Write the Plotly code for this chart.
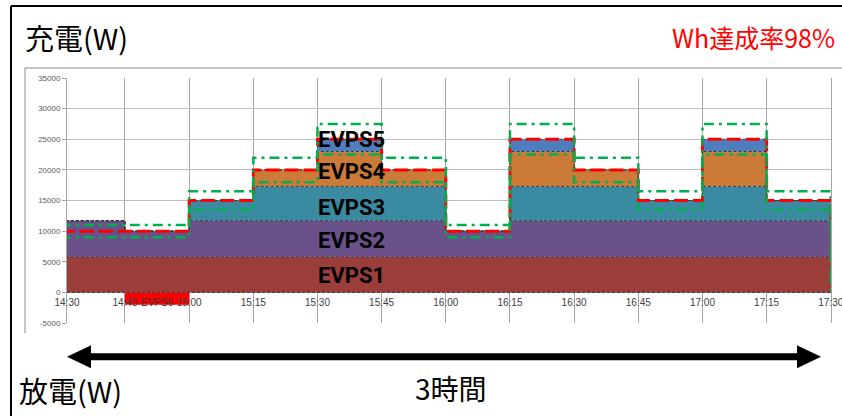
import plotly.graph_objects as go

# ---------------- data ----------------
time_labels = ["14:30", "14:45", "15:00", "15:15", "15:30", "15:45", "16:00",
               "16:15", "16:30", "16:45", "17:00", "17:15", "17:30"]
evps1 = [5800, 5800, 5800, 5800, 5800, 5800, 5800, 5800, 5800, 5800, 5800, 5800]
evps2 = [5900, 4200, 5900, 5900, 5900, 5900, 4200, 5900, 5900, 5900, 5900, 5900]
evps3 = [0, 0, 3300, 5600, 5600, 5600, 0, 5600, 5600, 3300, 5600, 3300]
evps4 = [0, 0, 0, 2700, 5700, 2700, 0, 5700, 2700, 0, 5700, 0]
evps5 = [0, 0, 0, 0, 2000, 0, 0, 2000, 0, 0, 2000, 0]
evps6 = [0, -2000, 0, 0, 0, 0, 0, 0, 0, 0, 0, 0]
target = [10000, 10000, 15000, 20000, 25000, 20000, 10000, 25000, 20000, 15000, 25000, 15000]
upper = [11000, 11000, 16500, 22000, 27500, 22000, 11000, 27500, 22000, 16500, 27500, 16500]
lower = [9000, 9000, 13500, 18000, 22500, 18000, 9000, 22500, 18000, 13500, 22500, 13500]
y_ticks = [-5000, 0, 5000, 10000, 15000, 20000, 25000, 30000, 35000]

# ---------------- helpers ----------------
def to_min(s):
    h, m = s.split(":")
    return (int(h) - 14) * 60 + int(m) - 30

minutes = [to_min(t) for t in time_labels]
X0 = 1.445  # axis start (first interval is drawn narrower in the original)
X1 = minutes[-1] + 0.05

def step(vals):
    return vals + [vals[-1]]

W, H = 842, 416
ML, MR, MT, MB = 67, 11, 78, 93
PW, PH = W - ML - MR, H - MT - MB

def px(x):
    return (x - ML) / PW

def py(y):
    return (H - MB - y) / PH

fig = go.Figure()

layers = [("EVPS1", evps1, "#9A3D3B"), ("EVPS2", evps2, "#6A5189"),
          ("EVPS3", evps3, "#3A8BA1"), ("EVPS4", evps4, "#CB7A38"),
          ("EVPS5", evps5, "#4F7EBF")]
for name, vals, col in layers:
    fig.add_trace(go.Scatter(
        x=minutes, y=step(vals), name=name, stackgroup="s", mode="lines",
        line=dict(shape="hv", width=1, color="#3a3a3a", dash="3px,2px"),
        fillcolor=col))

fig.add_trace(go.Scatter(
    x=minutes, y=step(evps6), name="EVPS6", mode="lines", fill="tozeroy",
    line=dict(shape="hv", width=0, color="#FF0000"), fillcolor="#FF0000"))

xs_line = minutes + [minutes[-1]]
fig.add_trace(go.Scatter(
    x=xs_line, y=step(target) + [0], mode="lines", name="target",
    line=dict(shape="hv", width=3, color="#FF0000", dash="14px,5px")))
for nm, vals in [("upper", upper), ("lower", lower)]:
    fig.add_trace(go.Scatter(
        x=xs_line, y=step(vals) + [0], mode="lines", name=nm,
        line=dict(shape="hv", width=2.5, color="#00B050", dash="10px,5px,3px,5px")))

# labels inside areas
label_x = 68
for txt, yv in [("EVPS5", 25000), ("EVPS4", 19700), ("EVPS3", 13900),
                ("EVPS2", 8450), ("EVPS1", 2700)]:
    fig.add_annotation(x=label_x, y=yv, text="<b>%s</b>" % txt, showarrow=False,
                       font=dict(family="Roboto", size=22, color="black"),
                       xanchor="center", yanchor="middle")
fig.add_annotation(x=22.5, y=-1700, text="EVPS6", showarrow=False,
                   font=dict(family="Liberation Sans", size=10, color="#333"),
                   xanchor="center", yanchor="middle")

shapes = []
# zero baseline of the stacked area
shapes.append(dict(type="line", xref="paper", yref="y", x0=0, x1=1, y0=0, y1=0,
                   line=dict(color="#3a3a3a", width=1, dash="3px,2px")))
# outer black frame
shapes.append(dict(type="line", xref="paper", yref="paper", x0=px(11), x1=px(845),
                   y0=py(6), y1=py(6), line=dict(color="black", width=2)))
shapes.append(dict(type="line", xref="paper", yref="paper", x0=px(11), x1=px(11),
                   y0=py(6), y1=py(420), line=dict(color="black", width=2)))
# inner chart gray box
shapes.append(dict(type="line", xref="paper", yref="paper", x0=px(25), x1=px(845),
                   y0=py(68), y1=py(68), line=dict(color="#8C8C8C", width=1)))
shapes.append(dict(type="line", xref="paper", yref="paper", x0=px(25), x1=px(25),
                   y0=py(68), y1=py(333), line=dict(color="#8C8C8C", width=1)))
# double-headed arrow
ay = 356.7
path = ("M {a},{b} L {c},{d} L {c},{e} L {f},{e} L {f},{d} L {g},{b} "
        "L {f},{h} L {f},{i} L {c},{i} L {c},{h} Z").format(
    a=px(67), b=py(ay), c=px(91), d=py(ay - 11.5), e=py(ay - 3.5),
    f=px(797), g=px(821), h=py(ay + 11.5), i=py(ay + 3.5))
shapes.append(dict(type="path", xref="paper", yref="paper", path=path,
                   fillcolor="black", line=dict(width=0)))

jp = "Noto Sans CJK JP"
annos = [
    dict(text="充電(W)", x=px(23), y=py(37), xanchor="left", size=29, color="black"),
    dict(text="Wh達成率98%", x=px(837), y=py(37), xanchor="right", size=25, color="#FF0000"),
    dict(text="放電(W)", x=px(17), y=py(390), xanchor="left", size=29, color="black"),
    dict(text="3時間", x=px(451), y=py(388), xanchor="center", size=28, color="black"),
]
for a in annos:
    fig.add_annotation(xref="paper", yref="paper", x=a["x"], y=a["y"], text=a["text"],
                       showarrow=False, xanchor=a["xanchor"], yanchor="middle",
                       font=dict(family=jp, size=a["size"], color=a["color"]))

tickvals = [min(max(m, X0), X1) for m in minutes]
fig.update_layout(
    width=W, height=H, margin=dict(l=ML, r=MR, t=MT, b=MB, autoexpand=False),
    paper_bgcolor="white", plot_bgcolor="white", showlegend=False,
    shapes=shapes,
    xaxis=dict(range=[X0, X1], tickvals=tickvals, ticktext=time_labels,
               anchor="free", position=(0 - y_ticks[0]) / (y_ticks[-1] - y_ticks[0]),
               showgrid=True, gridcolor="#A6A6A6", gridwidth=1, zeroline=False,
               showline=False, ticks="", ticklabelstandoff=3,
               ticklabeloverflow="allow", automargin=False,
               tickfont=dict(family="Liberation Sans", size=10, color="#404040")),
    yaxis=dict(range=[y_ticks[0], y_ticks[-1]], tickvals=y_ticks,
               ticktext=[str(v) for v in y_ticks], automargin=False,
               showgrid=True, gridcolor="#BFBFBF", gridwidth=1, zeroline=False,
               showline=True, linecolor="#A6A6A6", mirror=True,
               ticks="outside", ticklen=4, tickcolor="#A6A6A6",
               tickfont=dict(family="Liberation Sans", size=8, color="#595959")),
)

fig.write_html("out.html")
